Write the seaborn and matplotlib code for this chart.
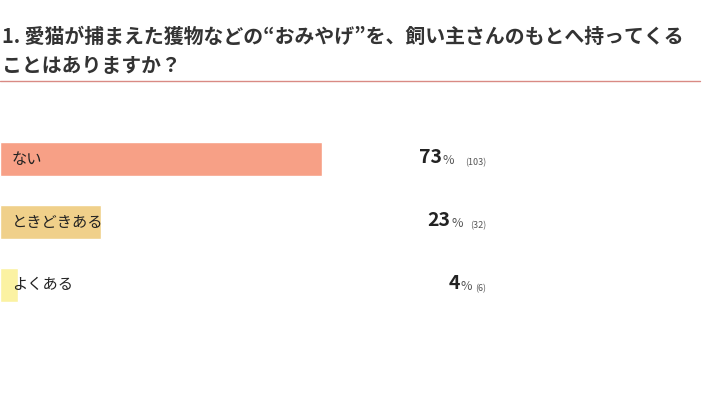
import pandas as pd
import seaborn as sns
import matplotlib.pyplot as plt
import matplotlib.lines as mlines

answers = ["ない", "ときどきある", "よくある"]
percents = [73, 23, 4]
counts = [103, 32, 6]
colors = ["#F7A086", "#F0D08A", "#FBF2A2"]

title = "1. 愛猫が捕まえた獲物などの“おみやげ”を、飼い主さんのもとへ持ってくる\nことはありますか？"

sns.set_theme(style="white")
plt.rcParams['font.family'] = ['Noto Sans CJK JP', 'DejaVu Sans']

df = pd.DataFrame({"answer": answers, "percent": percents})

fig = plt.figure(figsize=(7.1, 4.12), dpi=100)
# bars area: 63px per row, 100% spans 441px
ax = fig.add_axes([0, 1 - 322.8 / 412, 1, 201.6 / 412])
sns.barplot(data=df, x="percent", y="answer", hue="answer", palette=colors,
            legend=False, width=0.55, saturation=1, ax=ax)
ax.set_xlim(0, 710 / 441 * 100)
ax.set_ylim(2.6, -0.6)
ax.axis("off")

for i, (lab, p, c) in enumerate(zip(answers, percents, counts)):
    ax.text(12 / 441 * 100, i, lab, ha="left", va="center", fontsize=11, color="#222222")
    t = ax.text(486 / 441 * 100, i + 0.1, f"({c})", ha="right", va="baseline",
                fontsize=6.5, color="#555555")
    gap = (3 + 4 * (len(str(c)) - 1)) * 0.72
    t2 = ax.annotate("%", xy=(0, 0), xycoords=t, xytext=(-gap, 0), textcoords="offset points",
                     ha="right", va="bottom", fontsize=9, color="#555555")
    ax.annotate(str(p), xy=(0, 0), xycoords=t2, xytext=(-0.5, 0), textcoords="offset points",
                ha="right", va="bottom", fontsize=14, fontweight="bold", color="#222222")

fig.text(2 / 710, 1 - 51 / 412, title, ha="left", va="center", fontsize=14.3,
         fontweight="bold", color="#333333", linespacing=1.5)
fig.add_artist(mlines.Line2D([0, 700 / 710], [1 - 81 / 412] * 2, color="#D98A84", lw=1))

fig.savefig("out.png", dpi=100)
